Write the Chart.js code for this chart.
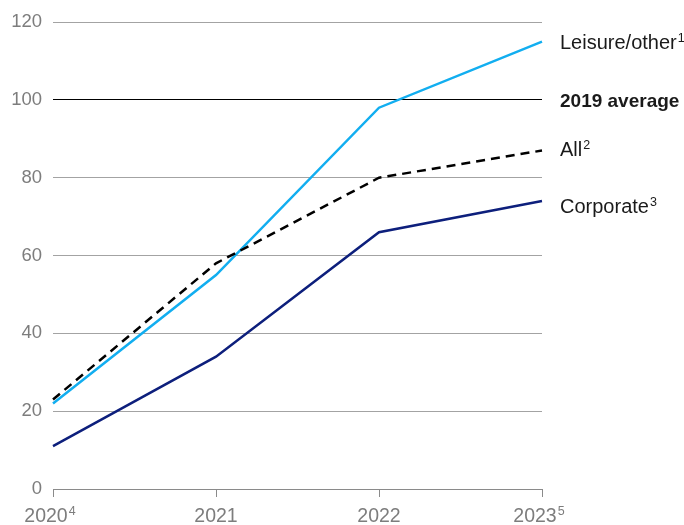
<!DOCTYPE html>
<html>
<head>
<meta charset="utf-8">
<script src="https://cdn.jsdelivr.net/npm/chart.js@4.4.0/dist/chart.umd.min.js"></script>
<style>
  html, body { margin: 0; padding: 0; background: #fff; }
  #wrap { width: 684px; height: 525px; }
</style>
</head>
<body>
<div id="wrap"><canvas id="myChart" width="684" height="525"></canvas></div>
<script>
var years = ["2020", "2021", "2022", "2023"];
var yearNotes = ["4", "", "", "5"];
var leisure = [22, 55, 98, 115];
var allTravel = [23, 58, 80, 87];
var corporate = [11, 34, 66, 74];
var baseline = 100;
var yTicks = [0, 20, 40, 60, 80, 100, 120];

var FONT = "'Liberation Sans', Arial, sans-serif";

// year labels under the axis, with their footnote numbers
var yearLabels = {
  id: "yearLabels",
  afterDraw: function (chart) {
    var ctx = chart.ctx;
    var x = chart.scales.x;
    var base = chart.chartArea.bottom + 33;
    ctx.save();
    ctx.fillStyle = "#7d7d7d";
    ctx.textAlign = "left";
    ctx.textBaseline = "alphabetic";
    years.forEach(function (yr, i) {
      var px = x.getPixelForValue(i);
      ctx.font = "19.5px " + FONT;
      var w = ctx.measureText(yr).width;
      var left;
      if (yearNotes[i]) {
        ctx.font = "12.5px " + FONT;
        var sw = ctx.measureText(yearNotes[i]).width + 1;
        left = px - (w + sw) / 2 - 3;
      } else {
        left = px - w / 2;
      }
      ctx.font = "19.5px " + FONT;
      ctx.fillText(yr, left, base);
      if (yearNotes[i]) {
        ctx.font = "12.5px " + FONT;
        ctx.fillText(yearNotes[i], left + w + 1, base - 7);
      }
    });
    ctx.restore();
  }
};

// series names at the right end of the lines
var endLabels = {
  id: "endLabels",
  afterDraw: function (chart) {
    var ctx = chart.ctx;
    var ys = chart.scales.y;
    var lx = chart.chartArea.right + 18;
    var items = [
      { text: "Leisure/other", note: "1", v: leisure[3], dy: 7, bold: false },
      { text: "2019 average", note: "", v: baseline, dy: 7, bold: true },
      { text: "All", note: "2", v: allTravel[3], dy: 6, bold: false },
      { text: "Corporate", note: "3", v: corporate[3], dy: 12, bold: false }
    ];
    ctx.save();
    ctx.fillStyle = "#1a1a1a";
    ctx.textAlign = "left";
    ctx.textBaseline = "alphabetic";
    items.forEach(function (it) {
      var py = ys.getPixelForValue(it.v) + it.dy;
      ctx.font = it.bold ? "bold 19px " + FONT : "20px " + FONT;
      ctx.fillText(it.text, lx, py);
      if (it.note) {
        var w = ctx.measureText(it.text).width;
        ctx.font = "12.5px " + FONT;
        ctx.fillText(it.note, lx + w + 1, py - 7);
      }
    });
    ctx.restore();
  }
};

var mychart = new Chart("myChart", {
  type: "line",
  data: {
    labels: years,
    datasets: [
      {
        label: "Corporate",
        data: corporate,
        borderColor: "#0d1f7c",
        borderWidth: 2.5,
        pointRadius: 0,
        tension: 0
      },
      {
        label: "All",
        data: allTravel,
        borderColor: "#000000",
        borderWidth: 2.5,
        borderDash: [9, 6],
        pointRadius: 0,
        tension: 0
      },
      {
        label: "Leisure/other",
        data: leisure,
        borderColor: "#12aef0",
        borderWidth: 2.5,
        pointRadius: 0,
        tension: 0
      }
    ]
  },
  options: {
    responsive: false,
    animation: false,
    layout: { padding: { top: 22, right: 142, left: 0, bottom: 0 } },
    plugins: {
      legend: { display: false },
      tooltip: { enabled: false }
    },
    scales: {
      x: {
        offset: false,
        border: { display: true, color: "#8a8a8a", width: 1 },
        grid: {
          drawOnChartArea: false,
          drawTicks: true,
          tickLength: 8,
          color: "#8a8a8a"
        },
        ticks: { display: false },
        afterFit: function (s) { s.height = 36; }
      },
      y: {
        min: 0,
        max: 120,
        afterBuildTicks: function (s) {
          s.ticks = yTicks.map(function (v) { return { value: v }; });
        },
        afterFit: function (s) { s.width = 53; },
        border: { display: false },
        grid: {
          drawTicks: false,
          color: function (c) { return c.tick.value === baseline ? "#000000" : "#a3a3a3"; },
          lineWidth: 1
        },
        ticks: {
          padding: 11,
          color: "#7d7d7d",
          font: { family: FONT, size: 18.5 }
        }
      }
    }
  },
  plugins: [yearLabels, endLabels]
});
</script>
</body>
</html>
